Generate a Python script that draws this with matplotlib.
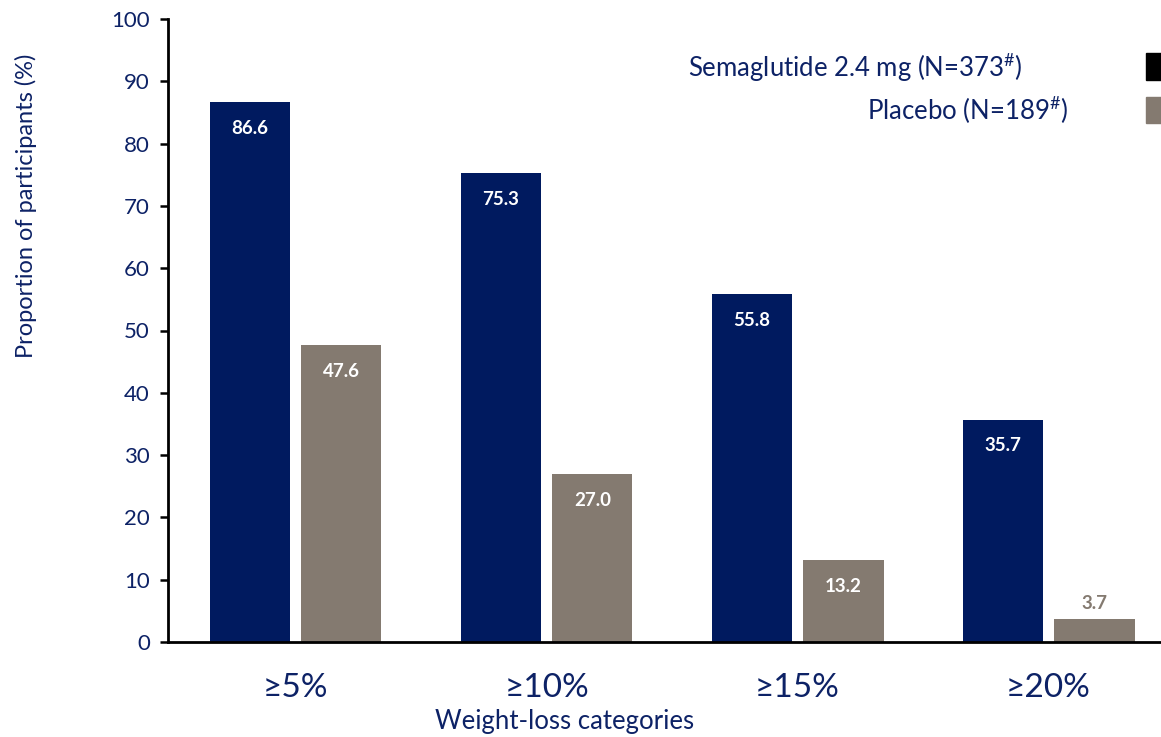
import matplotlib.pyplot as plt
import numpy as np

plt.rcParams['font.family'] = ['Lato', 'DejaVu Sans']
plt.rcParams['mathtext.fontset'] = 'custom'
plt.rcParams['mathtext.rm'] = 'Lato'
plt.rcParams['mathtext.it'] = 'Lato'

# Proportion of participants reaching each weight-loss threshold (%)
categories = ['≥5%', '≥10%', '≥15%', '≥20%']
sema = [86.6, 75.3, 55.8, 35.7]
placebo = [47.6, 27.0, 13.2, 3.7]

navy = '#001a5f'
grey = '#847a70'
text_col = '#0d2266'

W, H = 1161, 737
fig = plt.figure(figsize=(W / 100, H / 100), dpi=100)
ax = fig.add_axes([168 / W, 1 - 642 / H, 992 / W, 623 / H])

x = np.arange(len(categories))
w = 0.319
b1 = ax.bar(x - 0.182, sema, w, color=navy)
b2 = ax.bar(x + 0.183, placebo, w, color=grey)

# value labels: white inside the bar, or above it when the bar is too short
for bars, vals, col in ((b1, sema, navy), (b2, placebo, grey)):
    for rect, v in zip(bars, vals):
        cx = rect.get_x() + rect.get_width() / 2
        if v > 8:
            ax.annotate(f'{v:.1f}', (cx, v), xytext=(0, -19), textcoords='offset points',
                        ha='center', va='center', color='white', fontsize=13.5, fontweight='bold')
        else:
            ax.annotate(f'{v:.1f}', (cx, v), xytext=(0, 11), textcoords='offset points',
                        ha='center', va='center', color=col, fontsize=13.5, fontweight='bold')

ax.set_xlim(-0.508, 3.444)
ax.set_ylim(0, 100)
ax.set_yticks(range(0, 101, 10))
ax.set_xticks(x)
ax.set_xticklabels(categories, fontsize=24, color=text_col)
ax.tick_params(axis='x', length=0, pad=22)
ax.tick_params(axis='y', direction='out', length=6, width=1.8, labelsize=16,
               labelcolor=text_col, pad=7)
for s in ('top', 'right'):
    ax.spines[s].set_visible(False)
for s in ('left', 'bottom'):
    ax.spines[s].set_linewidth(2)

fig.text(26 / W, 1 - 206 / H, 'Proportion of participants (%)', rotation=90,
         ha='center', va='center', fontsize=17, color=text_col)
fig.text(565 / W, 1 - 721 / H, 'Weight-loss categories', ha='center', va='center',
         fontsize=18.5, color=text_col)

# legend drawn by hand, text right-aligned next to square swatches
fig.text(1023 / W, 1 - 68 / H, 'Semaglutide 2.4 mg (N=373$^{\\#}$)', ha='right', va='center',
         fontsize=18.5, color=text_col)
fig.text(1068 / W, 1 - 110 / H, 'Placebo (N=189$^{\\#}$)', ha='right', va='center',
         fontsize=18.5, color=text_col)
fig.patches.append(plt.Rectangle((1146 / W, 1 - 80 / H), 20 / W, 27 / H,
                                 transform=fig.transFigure, color='black'))
fig.patches.append(plt.Rectangle((1146 / W, 1 - 123 / H), 20 / W, 26 / H,
                                 transform=fig.transFigure, color=grey))

fig.savefig('out.png', dpi=100)
